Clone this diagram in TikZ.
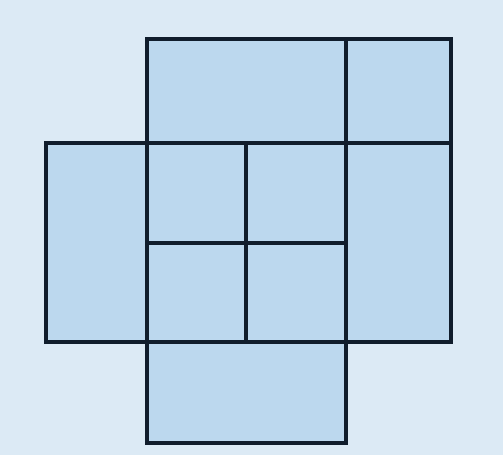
\documentclass[tikz,border=0pt]{standalone}
\definecolor{bgc}{HTML}{DCEAF5}
\definecolor{cellc}{HTML}{BCD8EE}
\definecolor{linec}{HTML}{101D2C}
\tikzset{cell/.style={fill=cellc,draw=linec,line width=4bp,line join=miter}}
\begin{document}
\begin{tikzpicture}[x=1bp,y=-1bp]
\fill[bgc] (0,0) rectangle (503,455);
\useasboundingbox (0,0) rectangle (503,455);
% top row
\draw[cell] (147,39) rectangle (346,143);
\draw[cell] (346,39) rectangle (451,143);
% left and right
\draw[cell] (46,143) rectangle (147,342);
\draw[cell] (346,143) rectangle (451,342);
% center 2x2
\draw[cell] (147,143) rectangle (246,243);
\draw[cell] (246,143) rectangle (346,243);
\draw[cell] (147,243) rectangle (246,342);
\draw[cell] (246,243) rectangle (346,342);
% bottom
\draw[cell] (147,342) rectangle (346,443);
\end{tikzpicture}
\end{document}
